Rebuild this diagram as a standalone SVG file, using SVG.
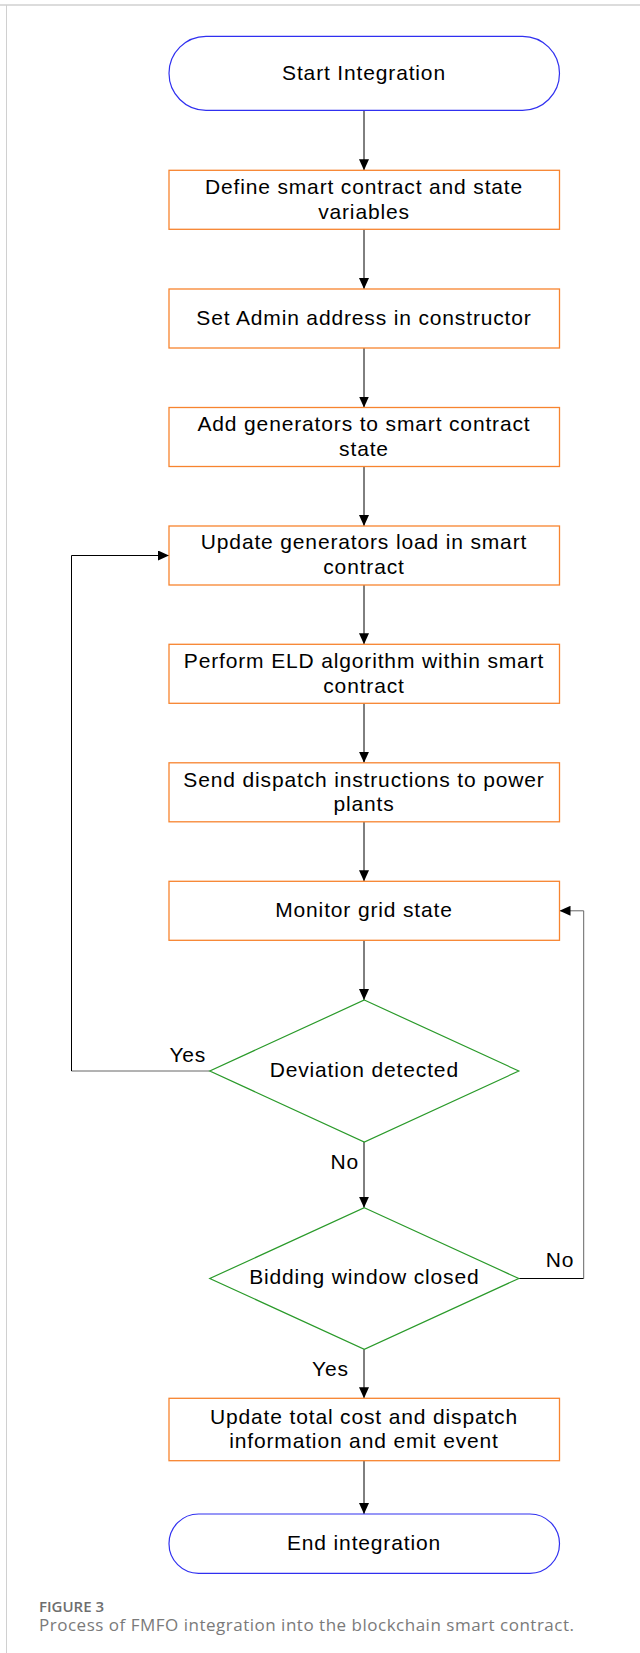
<svg xmlns="http://www.w3.org/2000/svg" width="640" height="1653" viewBox="0 0 640 1653">
<defs>
<marker id="ah" markerWidth="11" markerHeight="10" refX="11" refY="5" orient="auto" markerUnits="userSpaceOnUse">
<path d="M0,0 L11,5 L0,10 Z" fill="#000"/>
</marker>
<style>
.term{fill:#fff;stroke:#3030f0;stroke-width:1.2}
.box{fill:#fff;stroke:#f7842f;stroke-width:1.3}
.dec{fill:#fff;stroke:#2a9a2a;stroke-width:1.2}
.t{font-family:"Liberation Sans",Arial,sans-serif;font-size:21px;fill:#000;text-anchor:middle;letter-spacing:0.85px}
.lbl{font-family:"Liberation Sans",Arial,sans-serif;font-size:21px;fill:#000;letter-spacing:0.85px}
.c{fill:none;stroke:#000;stroke-width:1}
.cg{fill:none;stroke:#666;stroke-width:1}
.cap1{font-family:"Open Sans",sans-serif;font-size:15px;font-weight:600;fill:#6e6e6e}
.cap2{font-family:"Open Sans",sans-serif;font-size:17px;fill:#7a7a7a}
</style>
</defs>
<rect x="0" y="0" width="640" height="1653" fill="#fff"/>
<line x1="0" y1="5" x2="640" y2="5" stroke="#dcdcdc" stroke-width="2"/>
<line x1="6.5" y1="5" x2="6.5" y2="1653" stroke="#d0d0d0" stroke-width="1"/>

<g id="connectors">
<line class="c" x1="364" y1="110.3" x2="364" y2="170.3" marker-end="url(#ah)"/>
<line class="c" x1="364" y1="229.3" x2="364" y2="289" marker-end="url(#ah)"/>
<line class="c" x1="364" y1="348" x2="364" y2="407.5" marker-end="url(#ah)"/>
<line class="c" x1="364" y1="466.5" x2="364" y2="526" marker-end="url(#ah)"/>
<line class="c" x1="364" y1="585" x2="364" y2="644.3" marker-end="url(#ah)"/>
<line class="c" x1="364" y1="703.3" x2="364" y2="762.8" marker-end="url(#ah)"/>
<line class="c" x1="364" y1="821.8" x2="364" y2="881.3" marker-end="url(#ah)"/>
<line class="c" x1="364" y1="940.3" x2="364" y2="1000" marker-end="url(#ah)"/>
<line class="c" x1="364" y1="1142" x2="364" y2="1207.7" marker-end="url(#ah)"/>
<line class="c" x1="364" y1="1349.3" x2="364" y2="1398.3" marker-end="url(#ah)"/>
<line class="c" x1="364" y1="1460.7" x2="364" y2="1514" marker-end="url(#ah)"/>
<polyline class="cg" points="209.8,1071 71.5,1071"/>
<polyline class="c" points="71.5,1071 71.5,555.5 169,555.5" marker-end="url(#ah)"/>
<polyline class="c" points="518.8,1278.5 583.7,1278.5"/>
<polyline class="cg" points="583.7,1278.5 583.7,910.8 559.5,910.8" marker-end="url(#ah)"/>
<text class="lbl" x="169.4" y="1062.3">Yes</text>
<text class="lbl" x="330.6" y="1168.7">No</text>
<text class="lbl" x="545.7" y="1266.7">No</text>
<text class="lbl" x="312" y="1376">Yes</text>
</g>

<g id="start">
<rect class="term" x="169" y="36.3" width="390.5" height="74" rx="37" ry="37"/>
<text class="t" x="364" y="80">Start Integration</text>
</g>
<g id="define">
<rect class="box" x="169" y="170.3" width="390.5" height="59"/>
<text class="t" x="364" y="194.3">Define smart contract and state</text>
<text class="t" x="364" y="218.5">variables</text>
</g>
<g id="admin">
<rect class="box" x="169" y="289" width="390.5" height="59"/>
<text class="t" x="364" y="325">Set Admin address in constructor</text>
</g>
<g id="addgen">
<rect class="box" x="169" y="407.5" width="390.5" height="59"/>
<text class="t" x="364" y="431">Add generators to smart contract</text>
<text class="t" x="364" y="455.5">state</text>
</g>
<g id="updategen">
<rect class="box" x="169" y="526" width="390.5" height="59"/>
<text class="t" x="364" y="549">Update generators load in smart</text>
<text class="t" x="364" y="574">contract</text>
</g>
<g id="eld">
<rect class="box" x="169" y="644.3" width="390.5" height="59"/>
<text class="t" x="364" y="668">Perform ELD algorithm within smart</text>
<text class="t" x="364" y="692.5">contract</text>
</g>
<g id="dispatch">
<rect class="box" x="169" y="762.8" width="390.5" height="59"/>
<text class="t" x="364" y="786.5">Send dispatch instructions to power</text>
<text class="t" x="364" y="811">plants</text>
</g>
<g id="monitor">
<rect class="box" x="169" y="881.3" width="390.5" height="59"/>
<text class="t" x="364" y="916.7">Monitor grid state</text>
</g>
<g id="deviation">
<polygon class="dec" points="364.3,1000 518.8,1071 364.3,1142 209.8,1071"/>
<text class="t" x="364.3" y="1076.7">Deviation detected</text>
</g>
<g id="bidding">
<polygon class="dec" points="364.3,1207.7 518.8,1278.5 364.3,1349.3 209.8,1278.5"/>
<text class="t" x="364.3" y="1284">Bidding window closed</text>
</g>
<g id="updatecost">
<rect class="box" x="169" y="1398.3" width="390.5" height="62.4"/>
<text class="t" x="364" y="1423.5">Update total cost and dispatch</text>
<text class="t" x="364" y="1448">information and emit event</text>
</g>
<g id="end">
<rect class="term" x="169" y="1514" width="390.5" height="59.3" rx="29.6" ry="29.6"/>
<text class="t" x="364" y="1550">End integration</text>
</g>

<text class="cap1" x="39" y="1612">FIGURE 3</text>
<text class="cap2" x="39" y="1631" textLength="535" lengthAdjust="spacing">Process of FMFO integration into the blockchain smart contract.</text>
</svg>
